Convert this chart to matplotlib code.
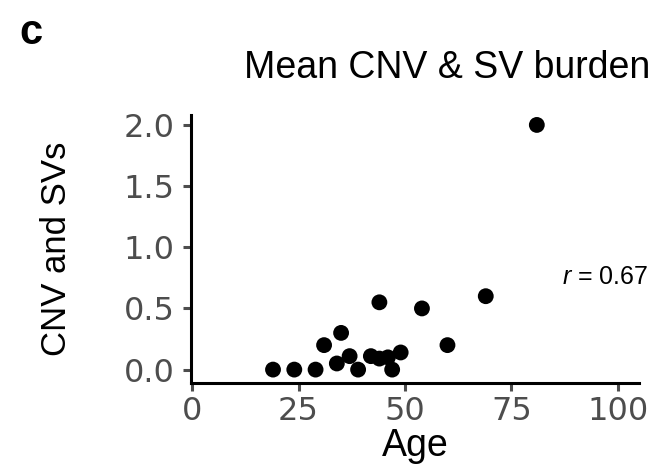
import numpy as np
import matplotlib
matplotlib.use('Agg')
import matplotlib.pyplot as plt

plt.rcParams['font.family'] = ['Liberation Sans', 'DejaVu Sans']
plt.rcParams['mathtext.fontset'] = 'custom'
plt.rcParams['mathtext.it'] = 'Liberation Sans:italic'
plt.rcParams['mathtext.rm'] = 'Liberation Sans'

# ages and mean CNV/SV burden
age = [19, 24, 29, 31, 34, 35, 37, 39, 42, 44, 44, 46, 47, 49, 54, 60, 69, 81]
burden = [0.0, 0.0, 0.0, 0.2, 0.05, 0.3, 0.11, 0.0, 0.11, 0.55, 0.09, 0.1,
          0.0, 0.14, 0.5, 0.2, 0.6, 2.0]
x_ticks = [0, 25, 50, 75, 100]
y_ticks = [0.0, 0.5, 1.0, 1.5, 2.0]
r_value = 0.67

fig = plt.figure(figsize=(6.56, 4.70), dpi=100)
ax = fig.add_axes([0.291, 0.185, 0.683, 0.570])

ax.scatter(age, burden, s=130, color='black', edgecolors='none', zorder=3)

ax.set_xlim(-0.3, 105)
ax.set_ylim(-0.11, 2.08)
ax.set_xticks(x_ticks)
ax.set_yticks(y_ticks)
ax.set_xticklabels([str(t) for t in x_ticks], fontfamily='DejaVu Sans')
ax.set_yticklabels(['{:.1f}'.format(t) for t in y_ticks],
                   fontfamily='DejaVu Sans')

for side in ['top', 'right']:
    ax.spines[side].set_visible(False)
for side in ['left', 'bottom']:
    ax.spines[side].set_linewidth(2.2)
    ax.spines[side].set_color('black')

ax.tick_params(axis='both', which='major', labelsize=23, colors='#4d4d4d',
               length=6, width=2.2)
ax.tick_params(axis='y', pad=5.5)
ax.tick_params(axis='x', pad=3)

ax.set_xlabel('Age', fontsize=27, va='center')
ax.set_ylabel('CNV and SVs', fontsize=25, va='center')
ax.xaxis.set_label_coords(0.5, -0.235)
ax.yaxis.set_label_coords(-0.3, 0.5)

ax.text(1.02, 0.395, r'$r$ = {:.2f}'.format(r_value), transform=ax.transAxes,
        fontsize=18, ha='right', va='center')

fig.text(0.991, 0.855, 'Mean CNV & SV burden', fontsize=27, ha='right',
         va='center')
fig.text(0.03, 0.93, 'c', fontsize=30, fontweight='bold', ha='left',
         va='center')

fig.savefig('out.png', dpi=100)
